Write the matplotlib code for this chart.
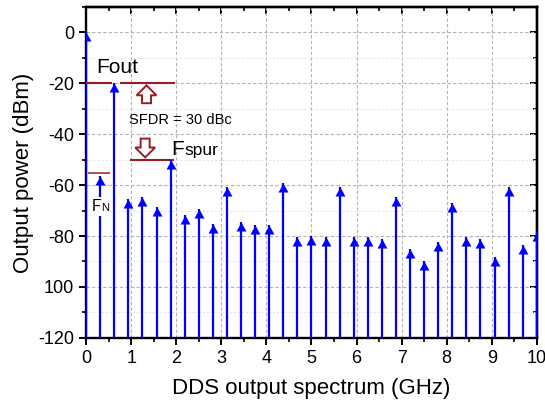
import matplotlib
matplotlib.use('Agg')
import numpy as np
import matplotlib.pyplot as plt
from matplotlib.ticker import MultipleLocator
from matplotlib.patches import FancyArrow

plt.rcParams['font.family'] = ['Liberation Sans', 'DejaVu Sans']

# spectrum lines (GHz, dBm at arrow tip)
freq_ghz = [0.0, 0.3125, 0.625, 0.9375, 1.25, 1.5625, 1.875, 2.1875, 2.5, 2.8125,
            3.125, 3.4375, 3.75, 4.0625, 4.375, 4.6875, 5.0, 5.3125, 5.625, 5.9375,
            6.25, 6.5625, 6.875, 7.1875, 7.5, 7.8125, 8.125, 8.4375, 8.75, 9.0625,
            9.375, 9.6875, 10.0]
power_dbm = [0.0, -56.3, -20.0, -65.5, -64.6, -68.5, -50.0, -71.8, -69.5, -75.4,
             -60.7, -74.4, -75.7, -75.7, -59.1, -80.3, -80.0, -80.3, -60.7, -80.5,
             -80.5, -81.3, -64.6, -85.2, -89.8, -82.2, -67.2, -80.5, -81.2, -88.1,
             -60.7, -83.5, -78.3]

xticks = [0, 1, 2, 3, 4, 5, 6, 7, 8, 9, 10]
yticks = [0, -20, -40, -60, -80, -100, -120]
ytick_labels = ['0', '-20', '-40', '-60', '-80', '100', '-120']

fout_level = -20
fspur_level = -50
fn_level = -55.4

blue = '#0000ff'
dred = '#9b1c24'

fig = plt.figure(figsize=(5.45, 4.12), dpi=100)
ax = fig.add_axes([0.158, 0.180, 0.827, 0.803])

# stems with arrow heads (tip sits on the value)
ax.vlines(freq_ghz, -120, power_dbm, color=blue, lw=1.6, zorder=3)
tip = [(0, 0), (-0.55, -1), (0.55, -1), (0, 0)]
ax.plot(freq_ghz, power_dbm, ls='none', marker=tip, ms=13, color=blue,
        mec='none', zorder=4)

ax.set_xlim(0, 10)
ax.set_ylim(-120, 10)
ax.set_xticks(xticks)
ax.set_yticks(yticks)
ax.set_yticklabels(ytick_labels)
ax.xaxis.set_minor_locator(MultipleLocator(0.5))
ax.yaxis.set_minor_locator(MultipleLocator(10))
ax.tick_params(which='major', direction='out', length=5, width=1.4, labelsize=13)
ax.tick_params(which='minor', direction='out', length=3, width=1.2)
ax.grid(which='major', color='#b4b4b4', ls=(0, (3, 2)), lw=0.8)
ax.grid(which='minor', axis='y', color='#e2e2e2', ls=(0, (2, 2)), lw=0.7)
ax.set_axisbelow(True)
for s in ax.spines.values():
    s.set_linewidth(1.7)

# mirrored ticks on top / right pointing inside
top = ax.secondary_xaxis('top')
top.set_xticks(xticks)
top.xaxis.set_minor_locator(MultipleLocator(0.5))
top.tick_params(which='major', direction='in', length=5, width=1.4, labeltop=False)
top.tick_params(which='minor', direction='in', length=3, width=1.2)
right = ax.secondary_yaxis('right')
right.set_yticks(yticks)
right.yaxis.set_minor_locator(MultipleLocator(10))
right.tick_params(which='major', direction='in', length=5, width=1.4, labelright=False)
right.tick_params(which='minor', direction='in', length=3, width=1.2)
for sec in (top, right):
    for s in sec.spines.values():
        s.set_linewidth(1.7)

ax.set_xlabel('DDS output spectrum (GHz)', fontsize=16, labelpad=8)
ax.set_ylabel('Output power (dBm)', fontsize=16, labelpad=3)

# annotations
ax.hlines(fout_level, 0, 0.57, color=dred, lw=1.5, zorder=5)
ax.hlines(fout_level, 0.75, 1.97, color=dred, lw=1.5, zorder=5)
ax.hlines(fspur_level, 0.97, 1.95, color=dred, lw=1.5, zorder=2)
ax.hlines(fn_level, 0.05, 0.53, color=dred, lw=1.1, zorder=2)

ax.add_patch(FancyArrow(1.34, -27.8, 0, 7.0, width=0.2, head_width=0.44,
                        head_length=3.9, length_includes_head=True,
                        fc='white', ec=dred, lw=1.4, zorder=5))
ax.add_patch(FancyArrow(1.31, -41.7, 0, -7.4, width=0.2, head_width=0.44,
                        head_length=3.9, length_includes_head=True,
                        fc='white', ec=dred, lw=1.4, zorder=5))

ax.text(0.22, -16.0, 'Fout', fontsize=15, va='baseline', ha='left', zorder=6)
ax.text(0.96, -34.5, 'SFDR = 30 dBc', fontsize=10.5, va='center', ha='left', zorder=6)
ax.text(1.9, -48.0, 'F', fontsize=15, va='baseline', ha='left', zorder=6)
ax.annotate('spur', xy=(1.9, -48.0), xytext=(9.5, 0), textcoords='offset points',
            fontsize=12.5, va='baseline', ha='left', zorder=6)

ax.text(0.12, -70.0, 'F', fontsize=11.5, va='baseline', ha='left', zorder=6,
        bbox=dict(fc='white', ec='none', pad=1.5))
ax.annotate('N', xy=(0.12, -70.0), xytext=(6.8, 0), textcoords='offset points',
            fontsize=8, va='baseline', ha='left', zorder=7,
            bbox=dict(fc='white', ec='none', pad=1.0))

fig.savefig('out.png', dpi=100)
